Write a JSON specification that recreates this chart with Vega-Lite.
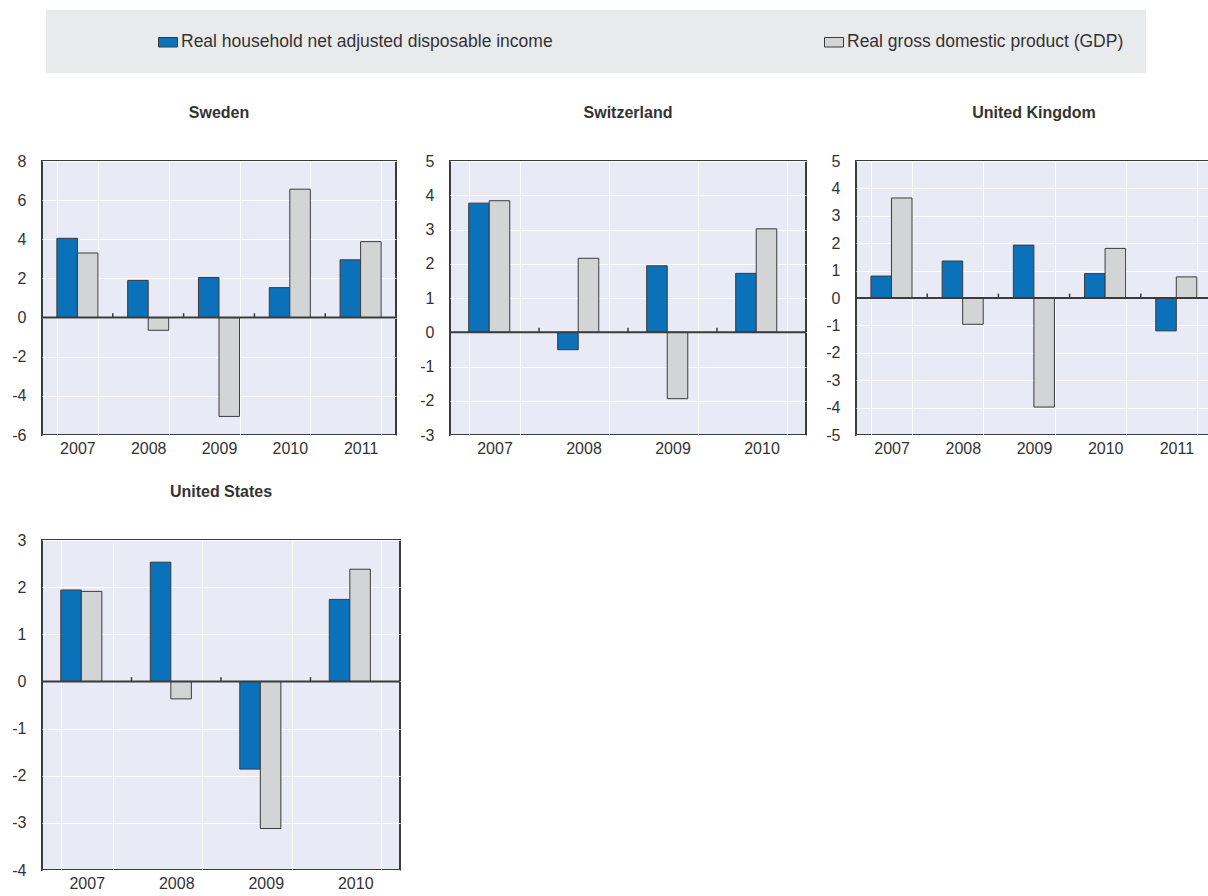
{
  "$schema": "https://vega.github.io/schema/vega-lite/v6.json",
  "padding": {"left": 10, "top": 10, "right": 0, "bottom": 0},
  "background": "white",
  "data": {"values": [
    {"country": "Sweden", "year": "2007", "series": "Real household net adjusted disposable income", "value": 4.05},
    {"country": "Sweden", "year": "2007", "series": "Real gross domestic product (GDP)", "value": 3.3},
    {"country": "Sweden", "year": "2008", "series": "Real household net adjusted disposable income", "value": 1.9},
    {"country": "Sweden", "year": "2008", "series": "Real gross domestic product (GDP)", "value": -0.65},
    {"country": "Sweden", "year": "2009", "series": "Real household net adjusted disposable income", "value": 2.05},
    {"country": "Sweden", "year": "2009", "series": "Real gross domestic product (GDP)", "value": -5.05},
    {"country": "Sweden", "year": "2010", "series": "Real household net adjusted disposable income", "value": 1.53},
    {"country": "Sweden", "year": "2010", "series": "Real gross domestic product (GDP)", "value": 6.56},
    {"country": "Sweden", "year": "2011", "series": "Real household net adjusted disposable income", "value": 2.95},
    {"country": "Sweden", "year": "2011", "series": "Real gross domestic product (GDP)", "value": 3.88},
    {"country": "Switzerland", "year": "2007", "series": "Real household net adjusted disposable income", "value": 3.77},
    {"country": "Switzerland", "year": "2007", "series": "Real gross domestic product (GDP)", "value": 3.84},
    {"country": "Switzerland", "year": "2008", "series": "Real household net adjusted disposable income", "value": -0.51},
    {"country": "Switzerland", "year": "2008", "series": "Real gross domestic product (GDP)", "value": 2.16},
    {"country": "Switzerland", "year": "2009", "series": "Real household net adjusted disposable income", "value": 1.94},
    {"country": "Switzerland", "year": "2009", "series": "Real gross domestic product (GDP)", "value": -1.94},
    {"country": "Switzerland", "year": "2010", "series": "Real household net adjusted disposable income", "value": 1.72},
    {"country": "Switzerland", "year": "2010", "series": "Real gross domestic product (GDP)", "value": 3.02},
    {"country": "United Kingdom", "year": "2007", "series": "Real household net adjusted disposable income", "value": 0.8},
    {"country": "United Kingdom", "year": "2007", "series": "Real gross domestic product (GDP)", "value": 3.65},
    {"country": "United Kingdom", "year": "2008", "series": "Real household net adjusted disposable income", "value": 1.35},
    {"country": "United Kingdom", "year": "2008", "series": "Real gross domestic product (GDP)", "value": -0.96},
    {"country": "United Kingdom", "year": "2009", "series": "Real household net adjusted disposable income", "value": 1.93},
    {"country": "United Kingdom", "year": "2009", "series": "Real gross domestic product (GDP)", "value": -3.98},
    {"country": "United Kingdom", "year": "2010", "series": "Real household net adjusted disposable income", "value": 0.89},
    {"country": "United Kingdom", "year": "2010", "series": "Real gross domestic product (GDP)", "value": 1.81},
    {"country": "United Kingdom", "year": "2011", "series": "Real household net adjusted disposable income", "value": -1.2},
    {"country": "United Kingdom", "year": "2011", "series": "Real gross domestic product (GDP)", "value": 0.77},
    {"country": "United States", "year": "2007", "series": "Real household net adjusted disposable income", "value": 1.94},
    {"country": "United States", "year": "2007", "series": "Real gross domestic product (GDP)", "value": 1.91},
    {"country": "United States", "year": "2008", "series": "Real household net adjusted disposable income", "value": 2.53},
    {"country": "United States", "year": "2008", "series": "Real gross domestic product (GDP)", "value": -0.37},
    {"country": "United States", "year": "2009", "series": "Real household net adjusted disposable income", "value": -1.86},
    {"country": "United States", "year": "2009", "series": "Real gross domestic product (GDP)", "value": -3.12},
    {"country": "United States", "year": "2010", "series": "Real household net adjusted disposable income", "value": 1.74},
    {"country": "United States", "year": "2010", "series": "Real gross domestic product (GDP)", "value": 2.38}
  ]},
  "columns": 3,
  "spacing": {"column": 16, "row": 26},
  "concat": [
    {
      "title": "Sweden",
      "width": 354, "height": 274,
      "transform": [{"filter": "datum.country === 'Sweden'"}],
      "layer": [
        {
          "mark": {"type": "bar", "stroke": "#3b3b3b", "strokeWidth": 1},
          "encoding": {
            "x": {"field": "year", "type": "ordinal", "title": null, "scale": {"paddingInner": 0.42, "paddingOuter": 0.21}},
            "xOffset": {"field": "series", "sort": ["Real household net adjusted disposable income", "Real gross domestic product (GDP)"]},
            "y": {"field": "value", "type": "quantitative", "title": null, "scale": {"domain": [-6, 8], "nice": false, "zero": false}, "axis": {"values": [-6, -4, -2, 0, 2, 4, 6, 8], "tickCount": 30, "format": "d"}},
            "color": {"field": "series", "type": "nominal", "scale": {"domain": ["Real household net adjusted disposable income", "Real gross domestic product (GDP)"], "range": ["#0b72b9", "#d3d4d6"]}, "legend": {"title": "\u00a0"}}
          }
        },
        {
          "transform": [{"filter": "datum.year !== '2007' && datum.series === 'Real gross domestic product (GDP)'"}],
          "mark": {"type": "rule", "color": "#3b3b3b", "strokeWidth": 1.5},
          "encoding": {
            "x": {"field": "year", "type": "ordinal", "bandPosition": -0.362},
            "y": {"datum": 0},
            "y2": {"datum": 0.22}
          }
        },
        {
          "data": {"values": [{"zero": 0}]},
          "mark": {"type": "rule", "color": "#3b3b3b", "strokeWidth": 2},
          "encoding": {"y": {"field": "zero", "type": "quantitative"}}
        }
      ]
    },
    {
      "title": "Switzerland",
      "width": 356, "height": 274,
      "transform": [{"filter": "datum.country === 'Switzerland'"}],
      "layer": [
        {
          "mark": {"type": "bar", "stroke": "#3b3b3b", "strokeWidth": 1},
          "encoding": {
            "x": {"field": "year", "type": "ordinal", "title": null, "scale": {"paddingInner": 0.42, "paddingOuter": 0.21}},
            "xOffset": {"field": "series", "sort": ["Real household net adjusted disposable income", "Real gross domestic product (GDP)"]},
            "y": {"field": "value", "type": "quantitative", "title": null, "scale": {"domain": [-3, 5], "nice": false, "zero": false}, "axis": {"values": [-3, -2, -1, 0, 1, 2, 3, 4, 5], "tickCount": 30, "format": "d"}},
            "color": {"field": "series", "type": "nominal", "scale": {"domain": ["Real household net adjusted disposable income", "Real gross domestic product (GDP)"], "range": ["#0b72b9", "#d3d4d6"]}, "legend": {"title": "\u00a0"}}
          }
        },
        {
          "transform": [{"filter": "datum.year !== '2007' && datum.series === 'Real gross domestic product (GDP)'"}],
          "mark": {"type": "rule", "color": "#3b3b3b", "strokeWidth": 1.5},
          "encoding": {
            "x": {"field": "year", "type": "ordinal", "bandPosition": -0.362},
            "y": {"datum": 0},
            "y2": {"datum": 0.13}
          }
        },
        {
          "data": {"values": [{"zero": 0}]},
          "mark": {"type": "rule", "color": "#3b3b3b", "strokeWidth": 2},
          "encoding": {"y": {"field": "zero", "type": "quantitative"}}
        }
      ]
    },
    {
      "title": "United Kingdom",
      "width": 356, "height": 274,
      "transform": [{"filter": "datum.country === 'United Kingdom'"}],
      "layer": [
        {
          "mark": {"type": "bar", "stroke": "#3b3b3b", "strokeWidth": 1},
          "encoding": {
            "x": {"field": "year", "type": "ordinal", "title": null, "scale": {"paddingInner": 0.42, "paddingOuter": 0.21}},
            "xOffset": {"field": "series", "sort": ["Real household net adjusted disposable income", "Real gross domestic product (GDP)"]},
            "y": {"field": "value", "type": "quantitative", "title": null, "scale": {"domain": [-5, 5], "nice": false, "zero": false}, "axis": {"values": [-5, -4, -3, -2, -1, 0, 1, 2, 3, 4, 5], "tickCount": 30, "format": "d"}},
            "color": {"field": "series", "type": "nominal", "scale": {"domain": ["Real household net adjusted disposable income", "Real gross domestic product (GDP)"], "range": ["#0b72b9", "#d3d4d6"]}, "legend": {"title": "\u00a0"}}
          }
        },
        {
          "transform": [{"filter": "datum.year !== '2007' && datum.series === 'Real gross domestic product (GDP)'"}],
          "mark": {"type": "rule", "color": "#3b3b3b", "strokeWidth": 1.5},
          "encoding": {
            "x": {"field": "year", "type": "ordinal", "bandPosition": -0.362},
            "y": {"datum": 0},
            "y2": {"datum": 0.16}
          }
        },
        {
          "data": {"values": [{"zero": 0}]},
          "mark": {"type": "rule", "color": "#3b3b3b", "strokeWidth": 2},
          "encoding": {"y": {"field": "zero", "type": "quantitative"}}
        }
      ]
    },
    {
      "title": "United States",
      "width": 358, "height": 330,
      "transform": [{"filter": "datum.country === 'United States'"}],
      "layer": [
        {
          "mark": {"type": "bar", "stroke": "#3b3b3b", "strokeWidth": 1},
          "encoding": {
            "x": {"field": "year", "type": "ordinal", "title": null, "scale": {"paddingInner": 0.42, "paddingOuter": 0.21}},
            "xOffset": {"field": "series", "sort": ["Real household net adjusted disposable income", "Real gross domestic product (GDP)"]},
            "y": {"field": "value", "type": "quantitative", "title": null, "scale": {"domain": [-4, 3], "nice": false, "zero": false}, "axis": {"values": [-4, -3, -2, -1, 0, 1, 2, 3], "tickCount": 30, "format": "d"}},
            "color": {"field": "series", "type": "nominal", "scale": {"domain": ["Real household net adjusted disposable income", "Real gross domestic product (GDP)"], "range": ["#0b72b9", "#d3d4d6"]}, "legend": {"title": "\u00a0"}}
          }
        },
        {
          "transform": [{"filter": "datum.year !== '2007' && datum.series === 'Real gross domestic product (GDP)'"}],
          "mark": {"type": "rule", "color": "#3b3b3b", "strokeWidth": 1.5},
          "encoding": {
            "x": {"field": "year", "type": "ordinal", "bandPosition": -0.362},
            "y": {"datum": 0},
            "y2": {"datum": 0.09}
          }
        },
        {
          "data": {"values": [{"zero": 0}]},
          "mark": {"type": "rule", "color": "#3b3b3b", "strokeWidth": 2},
          "encoding": {"y": {"field": "zero", "type": "quantitative"}}
        }
      ]
    }
  ],
  "resolve": {"scale": {"color": "shared"}},
  "config": {
    "font": "Liberation Sans",
    "locale": {"number": {"decimal": ".", "thousands": ",", "grouping": [3], "currency": ["$", ""], "minus": "-"}},
    "view": {"fill": "#e8ebf6", "stroke": "#3b3b3b", "strokeWidth": 2},
    "axis": {"labelFont": "Liberation Sans", "labelFontSize": 16, "labelColor": "#333333", "domain": false, "ticks": false, "grid": true, "gridColor": "#ffffff", "gridWidth": 1, "gridOpacity": 1, "labelOverlap": false},
    "axisX": {"labelAngle": 0, "tickBand": "extent", "labelPadding": 5},
    "axisY": {"labelPadding": 16},
    "title": {"font": "Liberation Sans", "fontSize": 16, "fontWeight": "bold", "color": "#333333", "anchor": "middle", "frame": "group", "offset": 32},
    "legend": {
      "orient": "none",
      "legendX": 4,
      "legendY": -151,
      "direction": "horizontal",
      "titleOrient": "left",
      "titlePadding": 90,
      "titleFontSize": 11,
      "fillColor": "#e9eaec",
      "padding": 22,
      "columnPadding": 269,
      "symbolType": "M-1,-0.5H1V0.5H-1Z",
      "symbolSize": 361,
      "symbolStrokeColor": "#3b3b3b",
      "symbolStrokeWidth": 1,
      "symbolOpacity": 1,
      "labelFont": "Liberation Sans",
      "labelFontSize": 17.5,
      "labelColor": "#333333",
      "labelLimit": 600,
      "labelOffset": 3
    }
  }
}
